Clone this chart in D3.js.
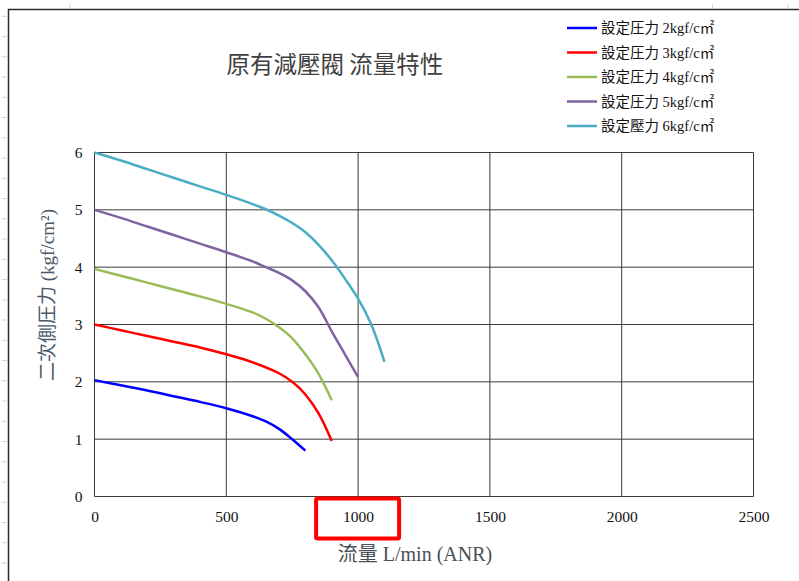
<!DOCTYPE html>
<html>
<head>
<meta charset="utf-8">
<script src="https://cdn.jsdelivr.net/npm/d3@7"></script>
<style>
  html, body { margin: 0; padding: 0; background: #fff; }
  svg { display: block; }
</style>
</head>
<body>
<svg id="chart" width="799" height="581"></svg>
<script>
// ---- data ----
const seriesNames = ["設定圧力 2kgf/c㎡", "設定圧力 3kgf/c㎡", "設定圧力 4kgf/c㎡", "設定圧力 5kgf/c㎡", "設定壓力 6kgf/c㎡"];
const seriesColors = ["#0000ff", "#ff0000", "#9bbb59", "#8064a2", "#4bacc6"];

const flow2 = [0, 100, 200, 300, 400, 500, 600, 650, 700, 750, 800];
const pres2 = [2.03, 1.94, 1.85, 1.75, 1.65, 1.54, 1.40, 1.31, 1.18, 1.0, 0.80];

const flow3 = [0, 100, 200, 300, 400, 500, 600, 700, 750, 800, 850, 900];
const pres3 = [3.0, 2.9, 2.8, 2.7, 2.6, 2.48, 2.34, 2.15, 2.0, 1.78, 1.45, 0.97];

const flow4 = [0, 100, 200, 300, 400, 500, 600, 650, 700, 750, 800, 850, 900];
const pres4 = [3.97, 3.85, 3.73, 3.61, 3.49, 3.36, 3.21, 3.1, 2.95, 2.76, 2.48, 2.14, 1.68];

const flow5 = [0, 100, 200, 300, 400, 500, 600, 650, 700, 750, 800, 850, 900, 950, 1000];
const pres5 = [5.0, 4.86, 4.71, 4.56, 4.41, 4.26, 4.1, 4.0, 3.9, 3.77, 3.58, 3.3, 2.88, 2.48, 2.08];

const flow6 = [0, 100, 200, 300, 400, 500, 600, 650, 700, 750, 800, 850, 900, 950, 1000, 1050, 1100];
const pres6 = [6.0, 5.86, 5.71, 5.56, 5.41, 5.26, 5.1, 5.01, 4.9, 4.77, 4.61, 4.39, 4.12, 3.8, 3.45, 3.0, 2.35];

const xTicks = [0, 500, 1000, 1500, 2000, 2500];
const yTicks = [0, 1, 2, 3, 4, 5, 6];

const titleText = "原有減壓閥 流量特性";
const xTitle = "流量 L/min (ANR)";
const yTitle = "二次側圧力 (kgf/cm²)";

const flows = [flow2, flow3, flow4, flow5, flow6];
const pressures = [pres2, pres3, pres4, pres5, pres6];

// ---- drawing ----
const svg = d3.select("#chart");
const serif = "'Liberation Serif', 'Noto Sans CJK TC', serif";
const cjk = "'Noto Sans CJK TC', 'Noto Sans CJK JP', sans-serif";

// spreadsheet background traces
const rowYs = d3.range(16.3, 581, 20.25);
svg.selectAll("line.row").data(rowYs).enter().append("line")
  .attr("x1", 2).attr("x2", 7).attr("y1", d => d).attr("y2", d => d)
  .attr("stroke", "#d4d4d4").attr("stroke-width", 1);
[70, 712.5, 788].forEach(x => {
  svg.append("line").attr("x1", x).attr("x2", x).attr("y1", 4).attr("y2", 8)
    .attr("stroke", "#d4d4d4").attr("stroke-width", 1);
});

// chart frame
svg.append("path")
  .attr("d", "M8.5,581 L8.5,9.5 L799,9.5")
  .attr("fill", "none").attr("stroke", "#2b2b2b").attr("stroke-width", 1.5);

const x = d3.scaleLinear().domain([0, 2500]).range([94.5, 753.5]);
const y = d3.scaleLinear().domain([0, 6]).range([496.5, 152.5]);

// gridlines
svg.append("g").selectAll("line").data(yTicks).enter().append("line")
  .attr("x1", x(0)).attr("x2", x(2500))
  .attr("y1", d => y(d)).attr("y2", d => y(d))
  .attr("stroke", "#3a3a3a").attr("stroke-width", 1);
svg.append("g").selectAll("line").data(xTicks).enter().append("line")
  .attr("y1", y(0)).attr("y2", y(6))
  .attr("x1", d => x(d)).attr("x2", d => x(d))
  .attr("stroke", "#3a3a3a").attr("stroke-width", 1);

// axes labels
const xAxis = d3.axisBottom(x).tickValues(xTicks).tickSize(0).tickPadding(14).tickFormat(d3.format("d"));
const gx = svg.append("g").attr("transform", `translate(0,${y(0)})`).call(xAxis);
gx.select(".domain").remove();
gx.selectAll("text").attr("font-family", serif).attr("font-size", 15.5).attr("fill", "#111");

const yAxis = d3.axisLeft(y).tickValues(yTicks).tickSize(0).tickPadding(12).tickFormat(d3.format("d"));
const gy = svg.append("g").attr("transform", `translate(${x(0)},0)`).call(yAxis);
gy.select(".domain").remove();
gy.selectAll("text").attr("font-family", serif).attr("font-size", 15.5).attr("fill", "#111");

// series
const line = d3.line().x(d => x(d[0])).y(d => y(d[1])).curve(d3.curveCatmullRom.alpha(0.5));
flows.forEach((fl, i) => {
  const pts = fl.map((f, j) => [f, pressures[i][j]]);
  svg.append("path").datum(pts)
    .attr("d", line)
    .attr("fill", "none")
    .attr("stroke", seriesColors[i])
    .attr("stroke-width", 2.5)
    .attr("stroke-linejoin", "round");
});

// title
svg.append("text").attr("x", 335).attr("y", 73)
  .attr("text-anchor", "middle")
  .attr("font-family", cjk).attr("font-size", 23.5)
  .attr("fill", "#3f3f3f").text(titleText);

// axis titles
svg.append("text").attr("x", 415).attr("y", 561)
  .attr("text-anchor", "middle")
  .attr("font-family", serif).attr("font-size", 20)
  .attr("fill", "#4a4f57").text(xTitle);

svg.append("text")
  .attr("transform", "translate(54,295) rotate(-90)")
  .attr("text-anchor", "middle")
  .attr("font-family", serif).attr("font-size", 19)
  .attr("fill", "#4a5968").text(yTitle);

// legend
const legY = [28, 52.5, 77, 101.5, 126];
const leg = svg.append("g");
seriesNames.forEach((name, i) => {
  leg.append("line").attr("x1", 567).attr("x2", 597)
    .attr("y1", legY[i]).attr("y2", legY[i])
    .attr("stroke", seriesColors[i]).attr("stroke-width", 2.5);
  leg.append("text").attr("x", 601).attr("y", legY[i] + 5)
    .attr("font-family", serif).attr("font-size", 14.5)
    .attr("fill", "#111").text(name);
});

// red highlight box around the 1000 tick label
svg.append("rect")
  .attr("x", x(1000) - 42).attr("y", 498.5)
  .attr("width", 83).attr("height", 40)
  .attr("rx", 1.5)
  .attr("fill", "none").attr("stroke", "#ff0000").attr("stroke-width", 4);
</script>
</body>
</html>
